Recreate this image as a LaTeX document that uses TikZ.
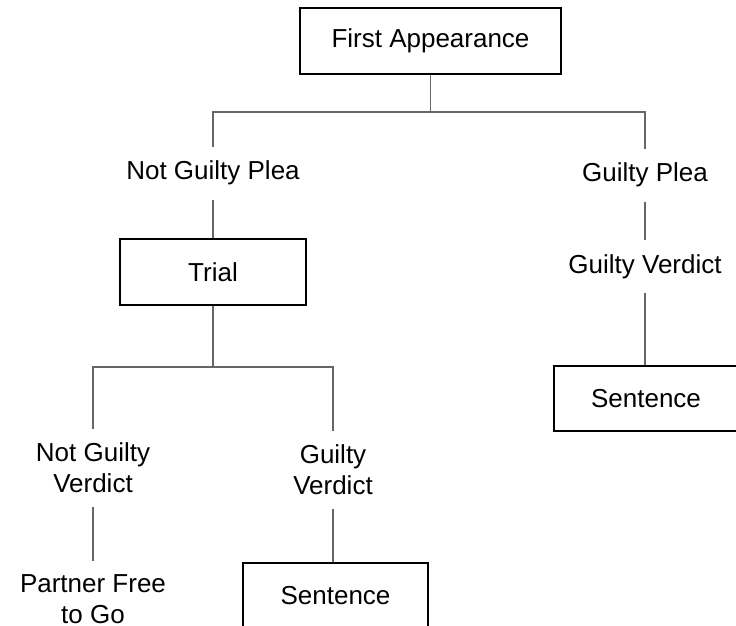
\documentclass[tikz,border=0pt]{standalone}
\usepackage{fontspec}
\setmainfont{Liberation Sans}
\begin{document}
\begin{tikzpicture}[x=1bp,y=-1bp]
\tikzset{
 lbl/.style={font=\fontsize{26bp}{31bp}\selectfont, inner sep=14bp, align=center},
 box/.style={lbl, draw=black, line width=1.1bp, inner sep=0pt},
 conn/.style={draw=black!60, line width=1.1bp}
}
\useasboundingbox (0,0) rectangle (736,626);
\clip (0,0) rectangle (736,626);
\fill[white] (0,0) rectangle (736,626);

\node[box, minimum width=261bp, minimum height=66bp] (fa) at (430.5,41) {First Appearance};
\node[lbl, anchor=base] (ngp) at (213,180) {Not Guilty Plea};
\node[lbl, anchor=base] (gp) at (645,182) {Guilty Plea};
\node[box, minimum width=186bp, minimum height=66bp] (trial) at (213,272) {Trial};
\node[lbl, anchor=base] (gvr) at (645,273) {Guilty Verdict};
\node[box, minimum width=184bp, minimum height=65bp] (sentr) at (646,398.5) {Sentence};
\node[lbl] (ngv) at (93,468) {Not Guilty\\Verdict};
\node[lbl] (gvb) at (333,470) {Guilty\\Verdict};
\node[lbl] (pf) at (93,599.5) {Partner Free\\to Go};
\node[box, minimum width=185bp, minimum height=66bp] (sentb) at (335.5,596) {Sentence};

\coordinate (j1) at (429,112);
\coordinate (j2) at (213,367);

\draw[conn] (fa.south) -- (fa.south |- j1);
\draw[conn] (ngp.north) |- (j1) -| (gp.north);
\draw[conn] (ngp.south) -- (trial.north);
\draw[conn] (gp.south) -- (gvr.north);
\draw[conn] (gvr.south) -- (gvr.south |- sentr.north);
\draw[conn] (trial.south) -- (j2);
\draw[conn] (ngv.north) |- (j2) -| (gvb.north);
\draw[conn] (ngv.south) -- (pf.north);
\draw[conn] (gvb.south) -- (gvb.south |- sentb.north);
\end{tikzpicture}
\end{document}
